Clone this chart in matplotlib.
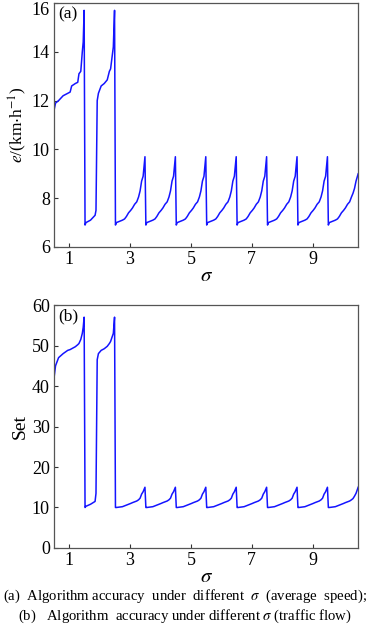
import matplotlib
matplotlib.use("Agg")
import matplotlib.pyplot as plt
import matplotlib.transforms as mtransforms
import numpy as np

plt.rcParams['font.family'] = ['Liberation Serif', 'DejaVu Serif']
plt.rcParams['mathtext.fontset'] = 'stix'

# sigma-Stuetzstellen (ein Block pro Abschnitt)
sigma_blocks = [
    [0.50, 0.55, 0.65, 0.80, 0.95, 1.03, 1.08, 1.20, 1.28, 1.32, 1.38, 1.43, 1.46, 1.49],
    [1.52, 1.55, 1.70, 1.85, 1.88, 1.92, 1.96, 2.05, 2.15, 2.25, 2.32, 2.36, 2.45, 2.49],
    [2.52, 2.55, 2.65, 2.75, 2.82, 2.88, 2.95, 3.02, 3.08, 3.15, 3.22, 3.28, 3.33, 3.38, 3.43, 3.49],
    [3.52, 3.55, 3.65, 3.75, 3.82, 3.88, 3.95, 4.02, 4.08, 4.15, 4.22, 4.28, 4.33, 4.38, 4.43, 4.49],
    [4.52, 4.55, 4.65, 4.75, 4.82, 4.88, 4.95, 5.02, 5.08, 5.15, 5.22, 5.28, 5.33, 5.38, 5.43, 5.49],
    [5.52, 5.55, 5.65, 5.75, 5.82, 5.88, 5.95, 6.02, 6.08, 6.15, 6.22, 6.28, 6.33, 6.38, 6.43, 6.49],
    [6.52, 6.55, 6.65, 6.75, 6.82, 6.88, 6.95, 7.02, 7.08, 7.15, 7.22, 7.28, 7.33, 7.38, 7.43, 7.49],
    [7.52, 7.55, 7.65, 7.75, 7.82, 7.88, 7.95, 8.02, 8.08, 8.15, 8.22, 8.28, 8.33, 8.38, 8.43, 8.49],
    [8.52, 8.55, 8.65, 8.75, 8.82, 8.88, 8.95, 9.02, 9.08, 9.15, 9.22, 9.28, 9.33, 9.38, 9.43, 9.49],
    [9.52, 9.55, 9.65, 9.75, 9.82, 9.88, 9.95, 10.02, 10.08, 10.15, 10.22, 10.28, 10.33, 10.38, 10.43, 10.50],
]

# (a) mittlere Geschwindigkeit, e in km/h
speed_blocks = [
    [11.6, 11.9, 12.0, 12.2, 12.3, 12.35, 12.6, 12.7, 12.75, 13.1, 13.2, 14.0, 14.4, 15.7],
    [6.9, 7.0, 7.1, 7.3, 7.5, 12.0, 12.3, 12.6, 12.7, 12.85, 13.2, 13.3, 14.2, 15.7],
    [6.9, 7.0, 7.05, 7.1, 7.15, 7.25, 7.4, 7.5, 7.6, 7.75, 7.85, 8.05, 8.3, 8.7, 8.9, 9.7],
    [6.9, 7.0, 7.05, 7.1, 7.15, 7.25, 7.4, 7.5, 7.6, 7.75, 7.85, 8.05, 8.3, 8.7, 8.9, 9.7],
    [6.9, 7.0, 7.05, 7.1, 7.15, 7.25, 7.4, 7.5, 7.6, 7.75, 7.85, 8.05, 8.3, 8.7, 8.9, 9.7],
    [6.9, 7.0, 7.05, 7.1, 7.15, 7.25, 7.4, 7.5, 7.6, 7.75, 7.85, 8.05, 8.3, 8.7, 8.9, 9.7],
    [6.9, 7.0, 7.05, 7.1, 7.15, 7.25, 7.4, 7.5, 7.6, 7.75, 7.85, 8.05, 8.3, 8.7, 8.9, 9.7],
    [6.9, 7.0, 7.05, 7.1, 7.15, 7.25, 7.4, 7.5, 7.6, 7.75, 7.85, 8.05, 8.3, 8.7, 8.9, 9.7],
    [6.9, 7.0, 7.05, 7.1, 7.15, 7.25, 7.4, 7.5, 7.6, 7.75, 7.85, 8.05, 8.3, 8.7, 8.9, 9.7],
    [6.9, 7.0, 7.05, 7.1, 7.15, 7.25, 7.4, 7.5, 7.6, 7.75, 7.85, 8.05, 8.2, 8.4, 8.7, 9.0],
]

# (b) Verkehrsfluss, Set
flow_blocks = [
    [42.0, 45.0, 47.0, 48.0, 48.8, 49.0, 49.2, 49.7, 50.2, 50.5, 51.5, 53.0, 54.5, 57.0],
    [10.0, 10.3, 10.8, 11.5, 13.5, 46.5, 48.0, 48.8, 49.2, 49.8, 50.5, 51.0, 53.0, 57.0],
    [10.0, 10.0, 10.1, 10.2, 10.4, 10.6, 10.8, 11.0, 11.2, 11.4, 11.6, 11.9, 12.3, 13.3, 13.9, 15.0],
    [10.0, 10.0, 10.1, 10.2, 10.4, 10.6, 10.8, 11.0, 11.2, 11.4, 11.6, 11.9, 12.3, 13.3, 13.9, 15.0],
    [10.0, 10.0, 10.1, 10.2, 10.4, 10.6, 10.8, 11.0, 11.2, 11.4, 11.6, 11.9, 12.3, 13.3, 13.9, 15.0],
    [10.0, 10.0, 10.1, 10.2, 10.4, 10.6, 10.8, 11.0, 11.2, 11.4, 11.6, 11.9, 12.3, 13.3, 13.9, 15.0],
    [10.0, 10.0, 10.1, 10.2, 10.4, 10.6, 10.8, 11.0, 11.2, 11.4, 11.6, 11.9, 12.3, 13.3, 13.9, 15.0],
    [10.0, 10.0, 10.1, 10.2, 10.4, 10.6, 10.8, 11.0, 11.2, 11.4, 11.6, 11.9, 12.3, 13.3, 13.9, 15.0],
    [10.0, 10.0, 10.1, 10.2, 10.4, 10.6, 10.8, 11.0, 11.2, 11.4, 11.6, 11.9, 12.3, 13.3, 13.9, 15.0],
    [10.0, 10.0, 10.1, 10.2, 10.4, 10.6, 10.8, 11.0, 11.2, 11.4, 11.6, 11.9, 12.2, 12.8, 13.5, 15.0],
]

xticks = [1, 3, 5, 7, 9]
speed_ticks = [6, 8, 10, 12, 14, 16]
flow_ticks = [0, 10, 20, 30, 40, 50, 60]

sigma = np.concatenate(sigma_blocks)
speed = np.concatenate(speed_blocks)
flow = np.concatenate(flow_blocks)

fig = plt.figure(figsize=(3.70, 6.28), dpi=100)
ax_a = fig.add_axes([0.146, 0.6067, 0.822, 0.3885])
ax_b = fig.add_axes([0.146, 0.1274, 0.822, 0.3869])

panels = [
    (ax_a, speed, speed_ticks, r'$e$/(km$\cdot$h$^{-1}$)', '(a)', 12.5),
    (ax_b, flow, flow_ticks, 'Set', '(b)', 14),
]

for ax, values, yt, ylabel, tag, ylsize in panels:
    ax.plot(sigma, values, color='#1414ff', linewidth=1.1)
    ax.set_xlim(0.5, 10.5)
    ax.set_ylim(yt[0], yt[-1])
    ax.set_xticks(xticks)
    ax.set_yticks(yt)
    ax.tick_params(direction='in', length=3, width=0.8, labelsize=13,
                   top=False, right=False, colors='#333333', labelcolor='black', pad=3)
    for sp in ax.spines.values():
        sp.set_color('#555555')
        sp.set_linewidth(0.9)
    ax.set_xlabel(r'$\sigma$', fontsize=15, labelpad=-1)
    ax.set_ylabel(ylabel, fontsize=ylsize, labelpad=2)
    ax.text(0.015, 0.985, tag, transform=ax.transAxes, ha='left', va='top', fontsize=12.5)

# oberste Beschriftung "16" etwas nach unten schieben, damit sie nicht abgeschnitten wird
fig.canvas.draw()
top_label = ax_a.get_yticklabels()[-1]
top_label.set_transform(top_label.get_transform() +
                        mtransforms.ScaledTranslation(0, -4 / 72, fig.dpi_scale_trans))

fig.text(0.5, 0.051, r'(a)  Algorithm accuracy  under  different  $\sigma$  (average  speed);',
         ha='center', va='center', fontsize=10.6)
fig.text(0.5, 0.019, r'(b)   Algorithm  accuracy under different $\sigma$ (traffic flow)',
         ha='center', va='center', fontsize=10.6)

fig.savefig('out.png', dpi=100)
plt.close(fig)
